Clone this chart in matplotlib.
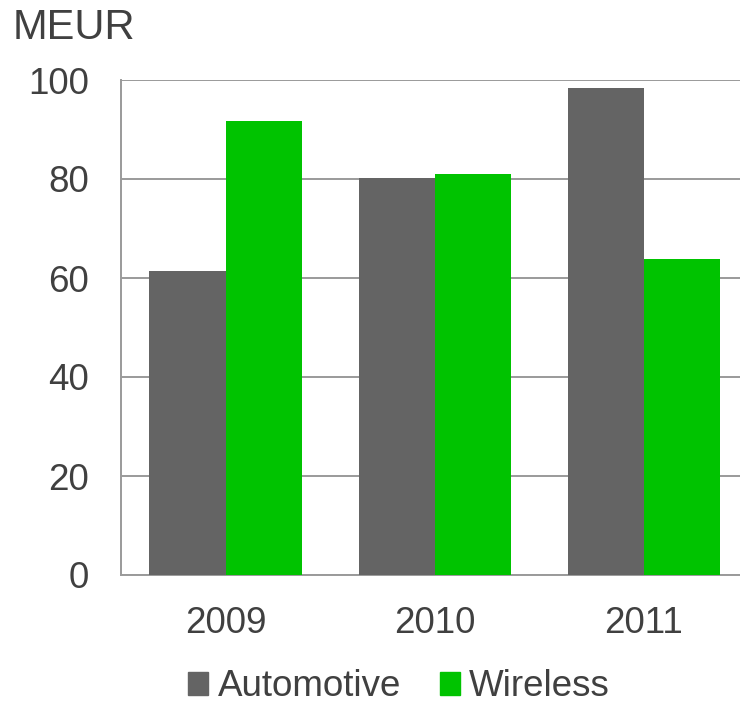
import matplotlib
matplotlib.use("Agg")
import matplotlib.pyplot as plt
import numpy as np
from matplotlib.patches import Patch

years = ["2009", "2010", "2011"]
automotive = [61.5, 80.2, 98.4]
wireless = [91.7, 81.0, 63.8]
yticks = [0, 20, 40, 60, 80, 100]

plt.rcParams['font.family'] = ['Liberation Sans', 'DejaVu Sans']
text_color = '#404040'
grey = '#646464'
green = '#00C300'
line_color = '#9a9a9a'

fig = plt.figure(figsize=(7.4, 7.03), dpi=100)
ax = fig.add_axes([121/740, 1-575/703, (748.5-121)/740, (575-80)/703])

x = np.arange(len(years))
w = 0.364
ax.bar(x - w/2, automotive, width=w, color=grey, zorder=3)
ax.bar(x + w/2, wireless, width=w, color=green, zorder=3)

ax.set_xlim(-0.5, 2.5)
ax.set_ylim(0, 100)
ax.set_yticks(yticks)
ax.set_xticks(x)
ax.set_xticklabels(years)
ax.tick_params(axis='both', length=0, labelsize=26.5, colors=text_color)
ax.tick_params(axis='y', pad=23)
ax.tick_params(axis='x', pad=22)
ax.yaxis.grid(True, color=line_color, linewidth=1.4, zorder=0)
ax.set_axisbelow(True)
for s in ['top', 'right']:
    ax.spines[s].set_visible(False)
for s in ['left', 'bottom']:
    ax.spines[s].set_color(line_color)
    ax.spines[s].set_linewidth(1.4)

fig.text(13/740, 1-28/703, "MEUR", fontsize=30, color=text_color, va='center', ha='left')

handles = [Patch(color=grey, label='Automotive'), Patch(color=green, label='Wireless')]
fig.legend(handles=handles, loc='center', bbox_to_anchor=(399/740, 1-687/703), ncol=2,
           frameon=False, fontsize=26.5, labelcolor=text_color,
           handlelength=0.55, handleheight=0.55, handletextpad=0.25, columnspacing=1.05,
           borderpad=0, borderaxespad=0)

fig.savefig("out.png", dpi=100)
